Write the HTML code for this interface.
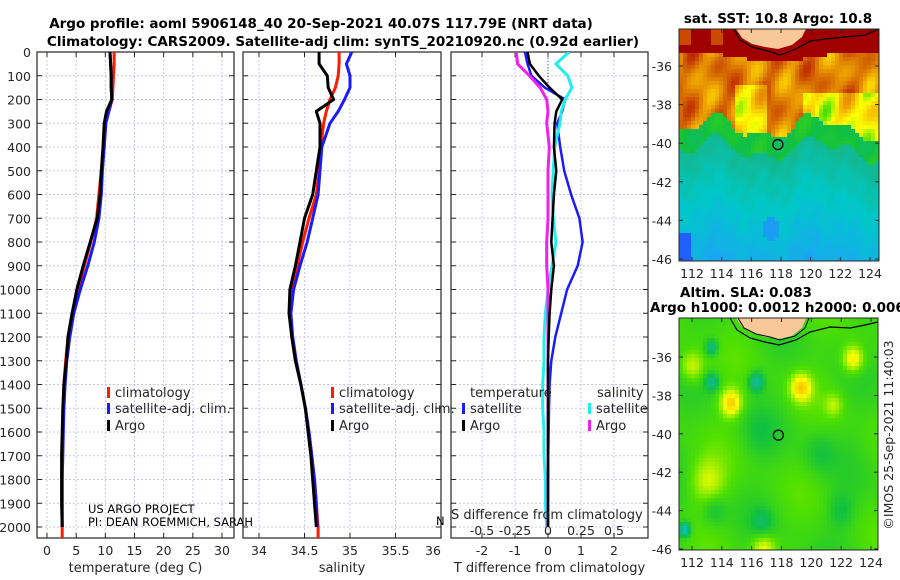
<!DOCTYPE html>
<html><head><meta charset="utf-8">
<style>
html,body{margin:0;padding:0;background:#fff;}
svg{display:block;font-family:"DejaVu Sans","Liberation Sans",sans-serif;}
</style></head>
<body>
<svg id="fig" width="900" height="580" viewBox="0 0 900 580" xmlns="http://www.w3.org/2000/svg">
<text x="321" y="28" font-size="13.5" font-weight="bold" text-anchor="middle">Argo profile: aoml 5906148_40 20-Sep-2021 40.07S 117.79E (NRT data)</text>
<text x="343" y="46" font-size="13.5" font-weight="bold" text-anchor="middle">Climatology: CARS2009. Satellite-adj clim: synTS_20210920.nc (0.92d earlier)</text>
<text x="778" y="23" font-size="13.5" font-weight="bold" text-anchor="middle">sat. SST: 10.8 Argo: 10.8</text>
<text x="680" y="297" font-size="13.5" font-weight="bold">Altim. SLA: 0.083</text>
<text x="650" y="312" font-size="13.5" font-weight="bold">Argo h1000: 0.0012 h2000: 0.0065</text>
<text transform="translate(893,435) rotate(-90)" font-size="12.5" fill="#262626" text-anchor="middle">©IMOS 25-Sep-2021 11:40:03</text>
<g id="g"></g>
</svg>
<script>
// ---- data ----
const depths = [0,50,100,150,200,250,300,400,500,600,700,800,900,1000,1100,1200,1300,1400,1500,1600,1700,1800,1900,2000];
const tempClim = [11.5,11.5,11.4,11.3,11.2,10.6,10.0,9.7,9.3,8.9,8.5,7.5,6.4,5.3,4.3,3.6,3.2,2.9,2.8,2.7,2.6,2.6,2.6,2.6];
const tempSat  = [10.8,10.9,11.0,11.0,11.1,10.6,10.1,9.8,9.5,9.3,8.9,8.1,7.0,5.7,4.6,3.9,3.4,3.1,2.9,2.8,2.7,2.6,2.6,2.6];
const tempArgo = [10.8,10.9,11.0,11.0,11.1,10.2,9.8,9.6,9.3,9.1,8.6,7.4,6.2,5.1,4.3,3.6,3.3,2.9,2.7,2.6,2.5,2.5,2.5,2.6];
const salClim  = [34.88,34.88,34.87,34.84,34.78,34.74,34.71,34.68,34.66,34.63,34.55,34.48,34.42,34.36,34.34,34.36,34.40,34.46,34.51,34.55,34.58,34.61,34.63,34.65];
const salSat   = [35.02,34.96,35.00,35.00,34.94,34.87,34.78,34.69,34.67,34.65,34.59,34.53,34.45,34.38,34.35,34.37,34.41,34.46,34.51,34.55,34.58,34.61,34.63,34.64];
const salArgo  = [34.66,34.66,34.75,34.76,34.82,34.63,34.67,34.67,34.63,34.59,34.50,34.45,34.40,34.34,34.33,34.36,34.40,34.46,34.51,34.54,34.57,34.59,34.61,34.63];
const dTsat  = [-0.70,-0.62,-0.50,-0.10,0.52,0.43,0.28,0.37,0.49,0.70,0.95,1.05,0.90,0.58,0.40,0.22,0.10,0.05,0.03,0.02,0.01,0.01,0.0,0.0];
const dTargo = [-0.62,-0.55,-0.28,0.05,0.43,0.25,0.20,0.18,0.25,0.18,0.14,0.10,0.18,0.10,0.05,0.02,0.0,0.0,0.0,0.0,0.0,0.0,0.0,0.0];
const dSsat  = [0.16,0.06,0.15,0.18,0.13,0.10,0.09,0.05,0.04,0.03,0.04,0.06,0.03,0.0,-0.02,-0.03,-0.03,-0.04,-0.04,-0.03,-0.03,-0.02,-0.02,-0.01];
const dSargo = [-0.24,-0.23,-0.14,-0.06,-0.01,0.0,-0.01,0.01,0.0,0.0,0.0,-0.01,-0.01,0.0,0.0,0.0,0.0,0.0,0.0,0.0,0.0,0.0,0.0,0.0];
const depthTicks = [0,100,200,300,400,500,600,700,800,900,1000,1100,1200,1300,1400,1500,1600,1700,1800,1900,2000];
const tempTicks = [0,5,10,15,20,25,30];
const salTicks = [34,34.5,35,35.5,36];
const salTickLabels = ["34","34.5","35","35.5","36"];
const dTTicks = [-2,-1,0,1,2];
const dSTickLabels = ["-0.5","-0.25","0","0.25","0.5"];
const dSTicks = [-0.5,-0.25,0,0.25,0.5];
const lonTicks = [112,114,116,118,120,122,124];
const latTicks = [-36,-38,-40,-42,-44,-46];
const argoPos = [117.79,-40.07];

const NS="http://www.w3.org/2000/svg";
const G=document.getElementById('g');
function mk(tag,attrs,parent){const e=document.createElementNS(NS,tag);for(const k in attrs)e.setAttribute(k,attrs[k]);(parent||G).appendChild(e);return e;}
function txt(x,y,s,size,anchor,parent,fill){const t=mk('text',{x:x,y:y,'font-size':size||12.5,'text-anchor':anchor||'start',fill:fill||'#262626'},parent);t.textContent=s;return t;}

const yTop=52,yBot=538;
const yD=d=>yTop+d*(527-yTop)/2000;
const P1={l:37,r:234}, P2={l:243,r:441}, P3={l:451,r:648};
const xT=v=>47+v*175/30;
const xS=v=>259+(v-34)*91;
const xDT=v=>548+v*33;
const xDS=v=>548+v*132;

function panel(P,name,xTicks,xf,xLabels,xTitle,showY){
  const g=mk('g',{});
  
  
  const clipId='c'+name;
  const cp=mk('clipPath',{id:clipId},g);mk('rect',{x:P.l,y:yTop,width:P.r-P.l,height:yBot-yTop},cp);
  depthTicks.forEach(d=>{if(d>0)mk('line',{x1:P.l,x2:P.r,y1:yD(d),y2:yD(d),stroke:'#c4c8ec','stroke-width':1,'stroke-dasharray':'2,2'},g);});
  xTicks.forEach(v=>mk('line',{x1:xf(v),x2:xf(v),y1:yTop,y2:yBot,stroke:'#c4c8ec','stroke-width':1,'stroke-dasharray':'2,2'},g));
  const fr=mk('rect',{x:P.l,y:yTop,width:P.r-P.l,height:yBot-yTop,fill:'none',stroke:'#262626','stroke-width':1.2},g);
  
  
  depthTicks.forEach(d=>{mk('line',{x1:P.l,x2:P.l+5,y1:yD(d),y2:yD(d),stroke:'#262626'},g);mk('line',{x1:P.r-5,x2:P.r,y1:yD(d),y2:yD(d),stroke:'#262626'},g);
    if(showY){const t=txt(31,yD(d)+5,String(d),12.5,'end',g);}});
  xTicks.forEach((v,i)=>{mk('line',{x1:xf(v),x2:xf(v),y1:yBot-5,y2:yBot,stroke:'#262626'},g);mk('line',{x1:xf(v),x2:xf(v),y1:yTop,y2:yTop+5,stroke:'#262626'},g);
    if(xLabels){let x=Math.min(xf(v),P.r-8);const t=txt(x,555,xLabels[i],12.5,'middle',g);}});
  const tt=txt((P.l+P.r)/2,572,xTitle,13,'middle',g);
  
  
  return {g:g,clip:'url(#'+clipId+')'};
}
function line(pan,vals,xf,color,name,w,extend){
  let d='';
  vals.forEach((v,i)=>{d+=(i?'L':'M')+xf(v).toFixed(1)+','+yD(depths[i]).toFixed(1);});
  if(extend)d+='L'+xf(vals[vals.length-1]).toFixed(1)+','+yBot;
  const p=mk('path',{d:d,fill:'none',stroke:color,'stroke-width':w||3,'stroke-linejoin':'round','clip-path':pan.clip},pan.g);
  
  
}
function legend(parent,x,y,color,label,name){
  const r=mk('rect',{x:x,y:y-10,width:3,height:11,fill:color},parent);
  
  
  const t=txt(x+8,y,label,13,'start',parent);
  
  
}

const p1=panel(P1,'temperature-panel',tempTicks,xT,tempTicks.map(String),'temperature (deg C)',true);
line(p1,tempClim,xT,'#ff1a00','temperature-climatology-line',3,true);
line(p1,tempSat,xT,'#1a1aff','temperature-satellite-line',3);
line(p1,tempArgo,xT,'#000','temperature-argo-line',3);
legend(p1.g,107,397,'#ff1a00','climatology','legend-climatology');
legend(p1.g,107,413,'#1a1aff','satellite-adj. clim.','legend-satellite');
legend(p1.g,107,430,'#000','Argo','legend-argo');
const pl=txt(88,513,'US ARGO PROJECT',11.5,'start',p1.g,'#000');


const pi=txt(88,526,'PI: DEAN ROEMMICH, SARAH',11.5,'start',p1.g,'#000');



const p2=panel(P2,'salinity-panel',salTicks,xS,salTickLabels,'salinity',false);
line(p2,salClim,xS,'#ff1a00','salinity-climatology-line',3,true);
line(p2,salSat,xS,'#1a1aff','salinity-satellite-line',3);
line(p2,salArgo,xS,'#000','salinity-argo-line',3);
legend(p2.g,331,397,'#ff1a00','climatology','legend-climatology-2');
legend(p2.g,331,413,'#1a1aff','satellite-adj. clim.','legend-satellite-2');
legend(p2.g,331,430,'#000','Argo','legend-argo-2');
const nl=txt(436,525,'N',11.5,'start',null,'#000');



const p3=panel(P3,'difference-panel',dTTicks,xDT,dTTicks.map(String),'T difference from climatology',false);
mk('line',{x1:xDT(0),x2:xDT(0),y1:yTop,y2:yD(150),stroke:'#555','stroke-width':1,'stroke-dasharray':'1,2'},p3.g);
line(p3,dTsat,xDT,'#1a1aff','t-diff-satellite-line',2.5);
line(p3,dSsat,xDS,'#22eeee','s-diff-satellite-line',3);
line(p3,dSargo,xDS,'#ee22ee','s-diff-argo-line',3);
line(p3,dTargo,xDT,'#000','t-diff-argo-line',2.5);
const th=txt(470,397,'temperature',13,'start',p3.g);


const sh=txt(597,397,'salinity',13,'start',p3.g);


legend(p3.g,462,413,'#1a1aff','satellite','legend-t-satellite');
legend(p3.g,462,430,'#000','Argo','legend-t-argo');
legend(p3.g,588,413,'#22eeee','satellite','legend-s-satellite');
legend(p3.g,588,430,'#ee22ee','Argo','legend-s-argo');
const st=txt(451,519,'S difference from climatology',13,'start',p3.g);


dSTicks.forEach((v,i)=>{const t=txt(xDS(v),535,dSTickLabels[i],12.5,'middle',p3.g);});

// ---- maps ----
const sstStops=[[0,'#0000a0'],[0.15,'#2060ff'],[0.3,'#18a8f0'],[0.4,'#00c8c8'],[0.48,'#12b890'],[0.55,'#10c040'],[0.62,'#50e000'],[0.7,'#ffff00'],[0.78,'#f2b000'],[0.86,'#d87000'],[0.93,'#c03000'],[1,'#a00000']];
function hex(c){return [parseInt(c.slice(1,3),16),parseInt(c.slice(3,5),16),parseInt(c.slice(5,7),16)];}
function cmap(v){v=Math.max(0,Math.min(1,v));for(let i=1;i<sstStops.length;i++){if(v<=sstStops[i][0]){const a=sstStops[i-1],b=sstStops[i];const f=(v-a[0])/(b[0]-a[0]);const A=hex(a[1]),B=hex(b[1]);return 'rgb('+A.map((x,k)=>Math.round(x+(B[k]-x)*f)).join(',')+')';}}return '#a00000';}
function n2(x,y){return Math.sin(x*1.7+y*0.9)*Math.cos(y*1.3-x*0.6)+0.5*Math.sin(x*3.1-y*2.3);}
function sm(x,y){return Math.sin(x*0.8+y*0.5)*Math.cos(y*0.7-x*0.3);}
function sstVal(lon,lat){
  const coast=-35.3-0.5*Math.exp(-Math.pow((lon-117.5)/3,2));
  if(lat>coast)return (lat>-35&&lon<114&&Math.sin(lon*3)>0.3)?0.9:1.0;
  let front=-39.2+0.5*Math.sin(lon*0.9)+0.3*Math.cos(lon*2.1);
  if(lat>front){let v=0.84+0.07*n2(lon,lat);if(lon>119.5&&lat<-37.5)v-=0.12;if(lon>115&&lon<117&&lat<-37)v-=0.1;return v;}
  if(lat>front-1.1)return 0.55+0.02*n2(lon,lat);
  let v=0.48-(front-1.1-lat)*0.028+0.012*n2(lon*2,lat*2);
  if(lon<111.8&&lat<-44.6)v=0.15;
  if(Math.hypot(lon-117.3,lat+44.4)<0.6)v=0.28;
  return v;
}
function slaVal(lon,lat){
  let v=0.6+0.025*sm(lon,lat);
  const blobs=[[114.6,-38.4,0.7,0.15],[119.3,-37.6,0.7,0.14],[122.8,-36.1,0.7,0.13],[113,-42.5,1.2,0.08],[112,-36.5,0.8,0.09],[116.8,-46,0.8,0.1],[121.5,-38.5,0.6,0.06],
    [113.3,-35.5,0.4,-0.12],[113.3,-37.3,0.45,-0.12],[116.3,-37.3,0.5,-0.14],[111.5,-45,0.35,-0.2],[116.7,-44.6,0.7,-0.06],[122,-44,0.9,-0.05],[120.5,-41,1.0,-0.04],[113.5,-44,0.8,-0.05],[116.5,-40,1.2,-0.03]];
  blobs.forEach(b=>{v+=b[3]*Math.exp(-(Math.pow(lon-b[0],2)+Math.pow(lat-b[1],2))/(b[2]*b[2]));});
  return v;
}
function drawMap(name,M,valf,landPts,coastPts,coast2){
  const g=mk('g',{});
  
  
  const lonX=lon=>M.x0+(lon-112)*(M.x1-M.x0)/12;
  const latY=lat=>M.y0+(lat+36)*(M.y1-M.y0)/-10;
  const cs=4;
  for(let x=M.l;x<M.r;x+=cs)for(let y=M.t;y<M.b;y+=cs){
    const lon=112+(x+cs/2-M.x0)*12/(M.x1-M.x0), lat=-36-(y+cs/2-M.y0)*10/(M.y1-M.y0);
    mk('rect',{x:x,y:y,width:Math.min(cs,M.r-x)+0.3,height:Math.min(cs,M.b-y)+0.3,fill:cmap(valf(lon,lat))},g);
  }
  mk('path',{d:'M'+landPts.map(p=>p.join(',')).join('L')+'Z',fill:'#f8c898'},g);
  mk('path',{d:'M'+coastPts.map(p=>p.join(',')).join('L'),fill:'none',stroke:'#000','stroke-width':1.2},g);
  if(coast2)mk('path',{d:'M'+coast2.map(p=>p.join(',')).join('L'),fill:'none',stroke:'#000','stroke-width':1},g);
  const c=mk('circle',{cx:lonX(argoPos[0]),cy:latY(argoPos[1]),r:5,fill:'none',stroke:'#000','stroke-width':1.3},g);
  
  
  mk('rect',{x:M.l,y:M.t,width:M.r-M.l,height:M.b-M.t,fill:'none',stroke:'#262626','stroke-width':1},g);
  latTicks.forEach(v=>{const y=latY(v);mk('line',{x1:M.l,x2:M.l+4,y1:y,y2:y,stroke:'#262626'},g);mk('line',{x1:M.r-4,x2:M.r,y1:y,y2:y,stroke:'#262626'},g);
    const t=txt(672,y+5,String(v),12.5,'end',g);});
  lonTicks.forEach(v=>{const x=lonX(v);mk('line',{x1:x,x2:x,y1:M.b-4,y2:M.b,stroke:'#262626'},g);mk('line',{x1:x,x2:x,y1:M.t,y2:M.t+4,stroke:'#262626'},g);
    const t=txt(x,M.b+17,String(v),12.5,'middle',g);});
}
drawMap('sst-map',{l:679,r:879,t:29,b:261,x0:692,x1:870,y0:66,y1:259},sstVal,
  [[736,29],[742,38],[752,44],[765,47],[778,49],[792,45],[802,37],[806,29]],
  [[734,29],[740,40],[752,47],[768,51],[780,55],[796,49],[810,41],[825,39],[845,37],[865,35],[879,29]]);
drawMap('sla-map',{l:679,r:878,t:318,b:550,x0:692,x1:871,y0:357,y1:549},slaVal,
  [[736,318],[742,327],[752,333],[765,337],[778,339],[792,336],[802,328],[806,318]],
  [[730,318],[737,330],[750,338],[765,342],[779,345],[796,340],[810,332],[830,327],[850,328],[865,325],[878,322]],
  [[738,318],[744,328],[756,334],[770,337],[780,340],[795,336],[805,328],[809,318]]);
</script>
</body></html>
